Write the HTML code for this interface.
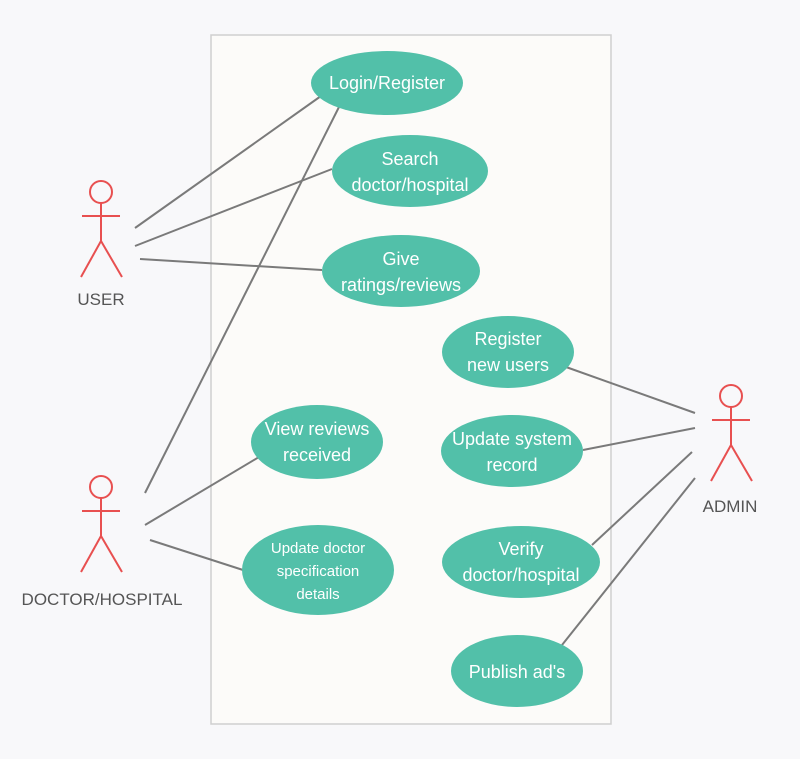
<!DOCTYPE html>
<html><head><meta charset="utf-8"><style>
html,body{margin:0;padding:0;background:#f8f8fa;}
svg{display:block;}
text{font-family:"Liberation Sans",sans-serif;}
</style></head><body>
<svg width="800" height="759" viewBox="0 0 800 759">
<rect width="800" height="759" fill="#f8f8fa"/>
<rect x="211" y="35" width="400" height="689" fill="#fcfbf9" stroke="#cfcfcf" stroke-width="1.5"/>
<g stroke="#7a7a7a" stroke-width="2" fill="none">
<line x1="135" y1="228" x2="321" y2="96"/>
<line x1="135" y1="246" x2="332" y2="169"/>
<line x1="140" y1="259" x2="322" y2="270"/>
<line x1="145" y1="493" x2="339" y2="107"/>
<line x1="145" y1="525" x2="259" y2="457"/>
<line x1="150" y1="540" x2="243" y2="570"/>
<line x1="566" y1="367" x2="695" y2="413"/>
<line x1="583" y1="450" x2="695" y2="428"/>
<line x1="592" y1="545" x2="692" y2="452"/>
<line x1="562" y1="645" x2="695" y2="478"/>
</g>
<g fill="#52c0a9">
<ellipse cx="387" cy="83" rx="76" ry="32"/>
<ellipse cx="410" cy="171" rx="78" ry="36"/>
<ellipse cx="401" cy="271" rx="79" ry="36"/>
<ellipse cx="508" cy="352" rx="66" ry="36"/>
<ellipse cx="512" cy="451" rx="71" ry="36"/>
<ellipse cx="521" cy="562" rx="79" ry="36"/>
<ellipse cx="517" cy="671" rx="66" ry="36"/>
<ellipse cx="317" cy="442" rx="66" ry="37"/>
<ellipse cx="318" cy="570" rx="76" ry="45"/>
</g>
<g fill="#ffffff" font-size="18" text-anchor="middle">
<text x="387" y="89">Login/Register</text>
<text x="410" y="165">Search</text><text x="410" y="191">doctor/hospital</text>
<text x="401" y="265">Give</text><text x="401" y="291">ratings/reviews</text>
<text x="508" y="345">Register</text><text x="508" y="371">new users</text>
<text x="512" y="445">Update system</text><text x="512" y="471">record</text>
<text x="521" y="555">Verify</text><text x="521" y="581">doctor/hospital</text>
<text x="517" y="678">Publish ad's</text>
<text x="317" y="435">View reviews</text><text x="317" y="461">received</text>
<g font-size="15"><text x="318" y="553">Update doctor</text><text x="318" y="576">specification</text><text x="318" y="599">details</text></g>
</g>
<g stroke="#e85050" stroke-width="2" fill="none">
<g transform="translate(101,192)">
<circle cx="0" cy="0" r="11"/><line x1="0" y1="11" x2="0" y2="49"/><line x1="-19" y1="24" x2="19" y2="24"/><line x1="0" y1="49" x2="-20" y2="85"/><line x1="0" y1="49" x2="21" y2="85"/>
</g>
<g transform="translate(101,487)">
<circle cx="0" cy="0" r="11"/><line x1="0" y1="11" x2="0" y2="49"/><line x1="-19" y1="24" x2="19" y2="24"/><line x1="0" y1="49" x2="-20" y2="85"/><line x1="0" y1="49" x2="21" y2="85"/>
</g>
<g transform="translate(731,396)">
<circle cx="0" cy="0" r="11"/><line x1="0" y1="11" x2="0" y2="49"/><line x1="-19" y1="24" x2="19" y2="24"/><line x1="0" y1="49" x2="-20" y2="85"/><line x1="0" y1="49" x2="21" y2="85"/>
</g>
</g>
<g fill="#555" font-size="17" text-anchor="middle">
<text x="101" y="305">USER</text>
<text x="102" y="605">DOCTOR/HOSPITAL</text>
<text x="730" y="512">ADMIN</text>
</g>
</svg>
</body></html>
